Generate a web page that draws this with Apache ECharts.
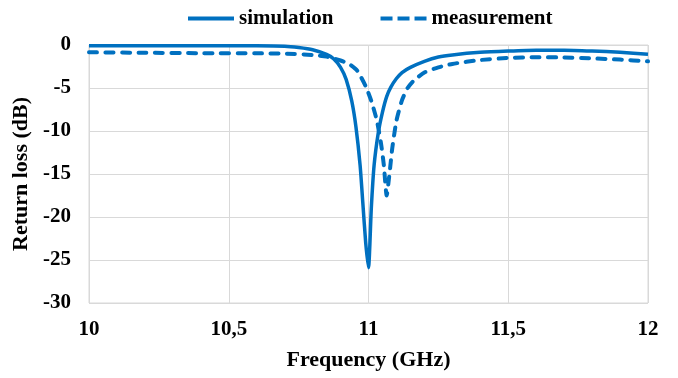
<!DOCTYPE html>
<html>
<head>
<meta charset="utf-8">
<script src="https://cdn.jsdelivr.net/npm/echarts@6/dist/echarts.min.js"></script>
<style>
  html, body { margin: 0; padding: 0; background: #fff; }
  #chart { width: 678px; height: 378px; }
</style>
</head>
<body>
<div id="chart"></div>
<script>
// Frequency points (GHz) and return loss (dB)
const simFreq = [10.0, 10.2, 10.4, 10.6, 10.7, 10.75, 10.8, 10.85, 10.875, 10.9, 10.92, 10.94, 10.955, 10.97, 10.98, 10.99, 11.0,
    11.01, 11.02, 11.035, 11.05, 11.065, 11.08, 11.1, 11.12, 11.15, 11.2, 11.25, 11.3, 11.4, 11.5, 11.6, 11.7, 11.8, 11.9, 12.0];
const simLoss = [-0.08, -0.08, -0.09, -0.1, -0.15, -0.3, -0.55, -1.1, -1.6, -2.6, -4.0, -6.5, -9.5, -14, -18.5, -23, -25.9,
    -19, -14, -10.2, -7.8, -6.0, -4.9, -3.9, -3.2, -2.6, -1.9, -1.4, -1.15, -0.85, -0.7, -0.6, -0.6, -0.7, -0.85, -1.08];

const measFreq = [10.0, 10.2, 10.4, 10.6, 10.7, 10.8, 10.85, 10.9, 10.93, 10.96, 10.99, 11.01, 11.03, 11.045, 11.055, 11.065,
    11.075, 11.085, 11.1, 11.12, 11.14, 11.16, 11.2, 11.25, 11.3, 11.4, 11.5, 11.6, 11.7, 11.8, 11.9, 12.0];
const measLoss = [-0.85, -0.9, -0.95, -0.97, -1.0, -1.16, -1.35, -1.8, -2.2, -3.0, -4.8, -6.5, -8.8, -11.5, -14, -17.5,
    -15, -12, -8.8, -6.4, -5.0, -4.2, -3.2, -2.6, -2.2, -1.75, -1.5, -1.42, -1.45, -1.55, -1.7, -1.9];

const seriesNames = ['simulation', 'measurement'];
const xTicks = { min: 10, max: 12, interval: 0.5 };
const yTicks = { min: -30, max: 0, interval: 5 };

const blue = '#0070c0';
const font = '"Liberation Serif", "Times New Roman", serif';

// legend icons: a solid bar and three dashes
const solidIcon = 'path://M0,0H46V4H0Z';
const dashIcon = 'path://M0,0H12V4H0Z M17,0H29V4H17Z M34,0H46V4H34Z';

function pairs(xs, ys) {
    return xs.map((x, i) => [x, ys[i]]);
}

const chart = echarts.init(document.getElementById('chart'));

chart.setOption({
    animation: false,
    backgroundColor: '#fff',
    textStyle: { fontFamily: font },
    legend: {
        top: 3,
        left: 183,
        itemWidth: 46,
        itemHeight: 4,
        itemGap: 47,
        textStyle: { fontFamily: font, fontSize: 21, fontWeight: 'bold', color: '#000' },
        data: [
            { name: seriesNames[0], icon: solidIcon },
            { name: seriesNames[1], icon: dashIcon }
        ]
    },
    grid: {
        left: 89, right: 30, top: 45, bottom: 75,
        show: true,
        borderColor: '#d9d9d9',
        borderWidth: 1
    },
    xAxis: {
        type: 'value',
        min: xTicks.min, max: xTicks.max, interval: xTicks.interval,
        name: 'Frequency (GHz)',
        nameLocation: 'middle',
        nameGap: 46,
        nameTextStyle: { fontFamily: font, fontSize: 22, fontWeight: 'bold', color: '#000' },
        axisLine: { show: false },
        axisTick: { show: false },
        axisLabel: {
            margin: 16,
            fontFamily: font, fontSize: 21, fontWeight: 'bold', color: '#000',
            formatter: v => String(v).replace('.', ',')
        },
        splitLine: { show: true, lineStyle: { color: '#d9d9d9', width: 1 } }
    },
    yAxis: {
        type: 'value',
        min: yTicks.min, max: yTicks.max, interval: yTicks.interval,
        name: 'Return loss (dB)',
        nameLocation: 'middle',
        nameGap: 54,
        nameTextStyle: { fontFamily: font, fontSize: 22, fontWeight: 'bold', color: '#000' },
        axisLine: { show: true, lineStyle: { color: '#d9d9d9' } },
        axisTick: { show: false },
        axisLabel: {
            margin: 18,
            fontFamily: font, fontSize: 21, fontWeight: 'bold', color: '#000'
        },
        splitLine: { show: true, lineStyle: { color: '#d9d9d9', width: 1 } }
    },
    series: [
        {
            name: seriesNames[0],
            type: 'line',
            data: pairs(simFreq, simLoss),
            symbol: 'none',
            smooth: 0.2,
            lineStyle: { color: blue, width: 3.5 },
            itemStyle: { color: blue }
        },
        {
            name: seriesNames[1],
            type: 'line',
            data: pairs(measFreq, measLoss),
            symbol: 'none',
            smooth: 0.2,
            lineStyle: { color: blue, width: 4, type: [8, 8.5], cap: 'round' },
            itemStyle: { color: blue }
        }
    ]
});
</script>
</body>
</html>
